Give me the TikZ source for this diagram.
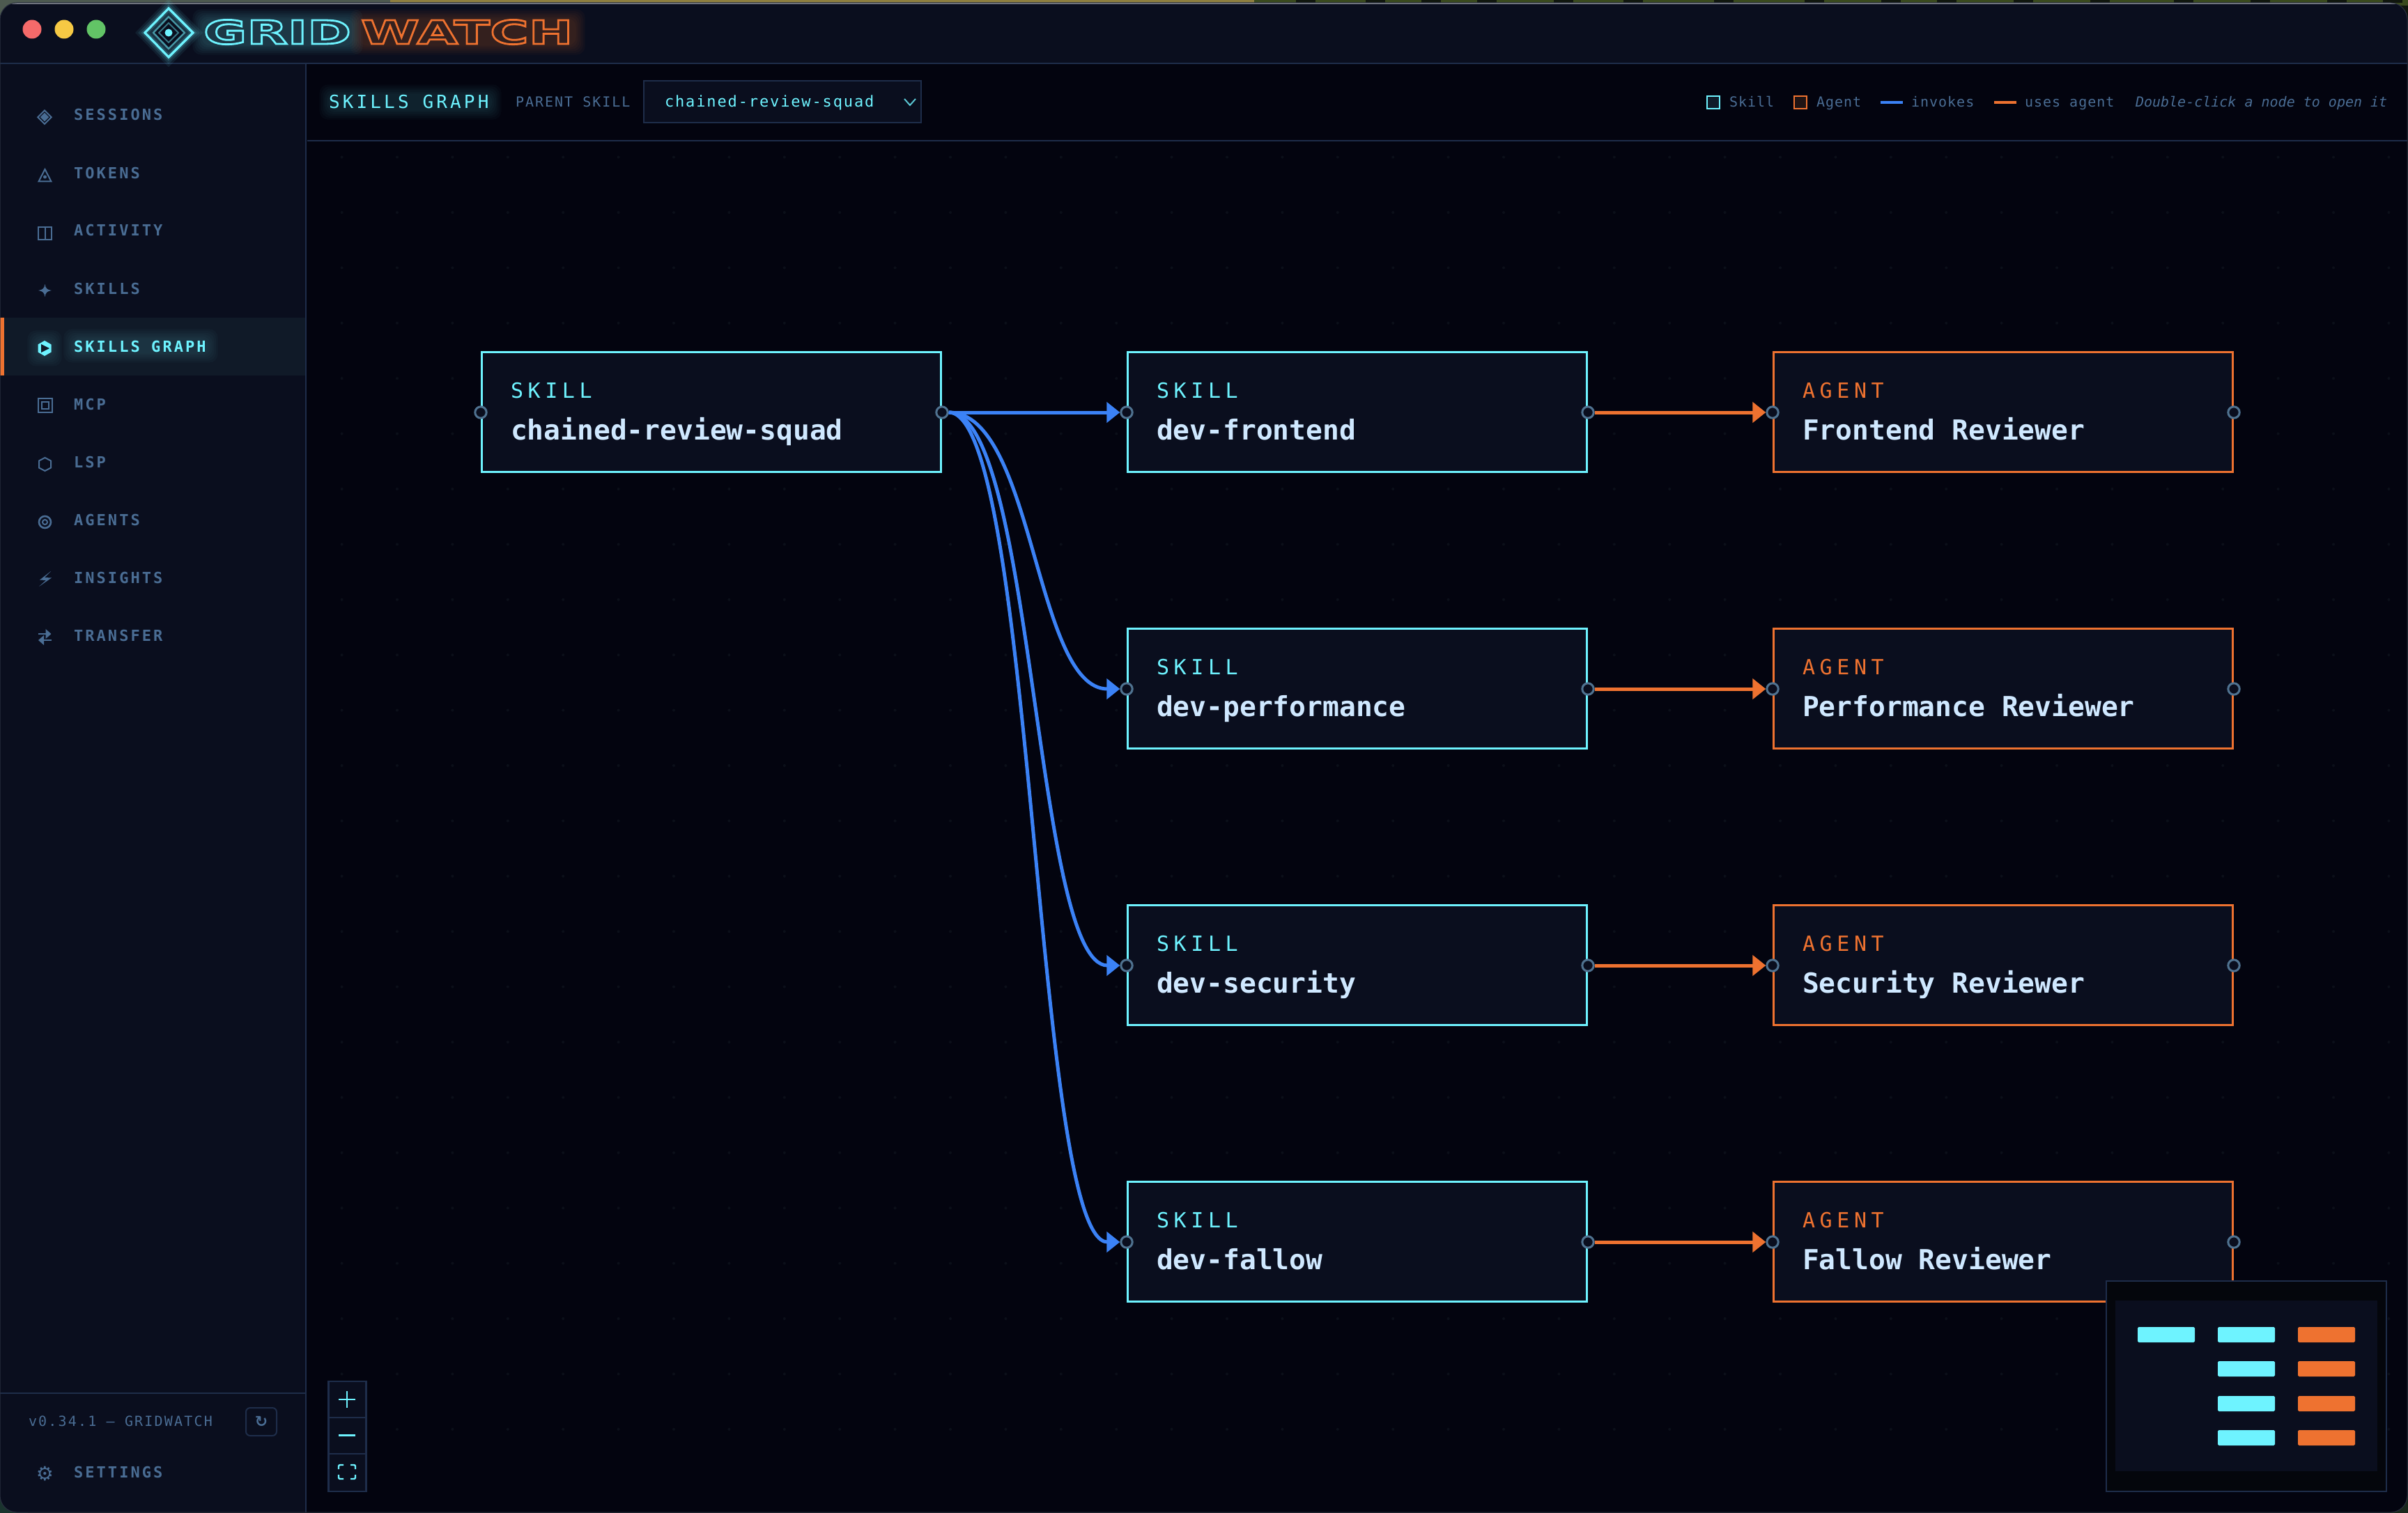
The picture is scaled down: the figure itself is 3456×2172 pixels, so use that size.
\documentclass[tikz,border=0pt]{standalone}
\usepackage{fontspec}
\usetikzlibrary{arrows.meta}
\setmainfont{DejaVu Sans Mono}
\newfontfamily\navfont[LetterSpace=14]{DejaVu Sans Mono}
\newfontfamily\kickerfont[LetterSpace=22]{DejaVu Sans Mono}
\newfontfamily\titlefont[LetterSpace=16]{DejaVu Sans Mono}
\newfontfamily\smallfont[LetterSpace=10]{DejaVu Sans Mono}
\newfontfamily\versionfont[LetterSpace=11]{DejaVu Sans Mono}
\newfontfamily\selectfontfam[LetterSpace=8.5]{DejaVu Sans Mono}
\newfontfamily\legendfont[LetterSpace=5]{DejaVu Sans Mono}
\newfontfamily\symfont{DejaVu Sans}
\newfontfamily\logofont[FakeStretch=1.63]{DejaVu Sans}
\definecolor{cyanc}{HTML}{6EF3FF}
\definecolor{orangec}{HTML}{EE7230}
\definecolor{bluec}{HTML}{3B82F6}
\definecolor{panel}{HTML}{0A0E1E}
\definecolor{canvasbg}{HTML}{03040F}
\definecolor{linec}{HTML}{1E2D4A}
\definecolor{muted}{HTML}{4A6D94}
\definecolor{lighttext}{HTML}{CFE8FF}
\definecolor{portc}{HTML}{4F7290}
\definecolor{griddot}{HTML}{0B0F19}
\definecolor{activebg}{HTML}{101A28}
\definecolor{wallgrey}{HTML}{4D5A50}
\definecolor{walltan}{HTML}{8F7F3F}
\definecolor{wallgreen}{HTML}{3A4A1E}
\definecolor{walldark}{HTML}{10160E}
\definecolor{cornerbl}{HTML}{1A342E}
\definecolor{cornerbr}{HTML}{1A281C}
\definecolor{tlred}{HTML}{F56A6A}
\definecolor{tlyellow}{HTML}{F6C944}
\definecolor{tlgreen}{HTML}{62C466}
\definecolor{titleline}{HTML}{7C808A}
\definecolor{winedge}{HTML}{2A3040}
\definecolor{legskillfill}{HTML}{0F1C2A}
\definecolor{legagentfill}{HTML}{201414}
\definecolor{minibg}{HTML}{04060C}
\newcommand{\fsz}[1]{\fontsize{#1}{#1}\selectfont}
\newcommand{\strokedtext}[1]{\special{pdf:literal direct 1 Tr 0.7 w}#1\special{pdf:literal direct 0 Tr}}
\newcommand{\softglow}[6]{\foreach \k in {1,...,6}{\fill[#5,opacity=#6,rounded corners=3pt] (#1-2.6*\k,#2-2.6*\k) rectangle (#3+2.6*\k,#4+2.6*\k);}}
\tikzset{
  txt/.style={anchor=base west,inner sep=0pt,outer sep=0pt},
  navlabel/.style={txt,text=muted,font=\navfont\bfseries\fsz{5.5}},
  navicon/.style={anchor=center,inner sep=0pt,text=muted,font=\symfont\bfseries\fsz{7}},
  iconline/.style={draw=muted,line width=.5pt},
  kicker/.style={txt,font=\kickerfont\fsz{7.5}},
  nodename/.style={txt,text=lighttext,font=\bfseries\fsz{9.9}},
  legendlabel/.style={txt,text=muted,font=\legendfont\fsz{5}},
  skillbox/.style={rectangle,draw=cyanc,fill=panel,line width=.75pt,minimum width=164.75pt,minimum height=43pt,inner sep=0pt},
  agentbox/.style={skillbox,draw=orangec},
  portdot/.style={circle,draw=portc,fill=panel,line width=.75pt,minimum size=4.1pt,inner sep=0pt,outer sep=.375pt},
  invokes/.style={draw=bluec,line width=1.25pt,-{Triangle[length=4.75pt,width=7.25pt]}},
  usesagent/.style={draw=orangec,line width=1.25pt,-{Triangle[length=4.75pt,width=7.25pt]}},
  panelline/.style={draw=linec,line width=.5pt},
  minibar/.style={rounded corners=.4pt},
}
\begin{document}
\begin{tikzpicture}[x=0.25pt,y=-0.25pt]
\useasboundingbox (0,0) rectangle (3456,2172);
% wallpaper behind the window
\fill[walldark] (0,0) rectangle (3456,2172);
\fill[wallgrey] (0,0) rectangle (560,40);
\fill[cornerbl] (0,2130) rectangle (40,2172);
\fill[cornerbr] (3416,2130) rectangle (3456,2172);
\fill[walltan] (560,0) rectangle (1800,8);
\fill[wallgreen] (1800,0) rectangle (3456,8);
\foreach \sx in {1860,1960,2040,2120,2230,2330,2460,2590,2700,2780,2890,3000,3120,3230,3340,3420}{
  \fill[walldark] (\sx,0) rectangle (\sx+28,4);
}
% window
\begin{scope}
\clip[rounded corners=6pt] (0,4) rectangle (3455,2171);
\fill[canvasbg] (0,0) rectangle (3456,2172);
% title bar
\fill[panel] (0,0) rectangle (3456,90);
\fill[titleline] (0,4) rectangle (3456,6.5);
\draw[panelline] (0,91) -- (3456,91);
% sidebar
\fill[panel] (0,92) rectangle (438,2172);
\fill[activebg] (0,456) rectangle (438,539);
\fill[orangec] (0,456) rectangle (6,539);
\draw[panelline] (439,92) -- (439,2172);
\draw[panelline] (0,2000) -- (438,2000);
% canvas dot grid
\foreach \gi in {-11,...,26}{\foreach \gj in {-5,...,18}{
  \fill[griddot] (1364+79.4*\gi,622.6+79.4*\gj) circle[radius=2];
}}
% toolbar
\fill[canvasbg] (441,92) rectangle (3456,201);
\draw[panelline] (441,202) -- (3456,202);
\end{scope}
\draw[winedge,line width=.25pt,rounded corners=6pt] (0,4) rectangle (3455,2171);
% traffic lights
\fill[tlred] (46,42) circle[radius=13.5];
\fill[tlyellow] (92,42) circle[radius=13.5];
\fill[tlgreen] (138,42) circle[radius=13.5];
% logo glow
\softglow{292}{29}{505}{63}{cyanc}{.035}
\softglow{518}{29}{824}{63}{orangec}{.035}
% logo mark
\foreach \w/\o in {5/.08,3.5/.10,2/.16}{
  \draw[cyanc,opacity=\o,line width=\w pt] (242,12) -- (277,47) -- (242,82) -- (208,47) -- cycle;
}
\draw[cyanc,line width=.8pt] (242,12) -- (277,47) -- (242,82) -- (208,47) -- cycle;
\draw[cyanc!60!panel,line width=.6pt] (242,24) -- (265,47) -- (242,70) -- (220,47) -- cycle;
\draw[cyanc!45!panel,line width=.5pt] (242,33) -- (256,47) -- (242,61) -- (228,47) -- cycle;
\fill[cyanc] (242,47) circle[radius=5.5];
\node[txt,text=cyanc,font=\logofont\bfseries\fsz{11.65}] (logoa) at (292,63) {\strokedtext{GRID}};
\node[txt,text=orangec,font=\logofont\bfseries\fsz{11.65}] (logob) at (518,63) {\strokedtext{WATCH}};
% sidebar icons
\draw[iconline] (64,158.5) -- (73.7,168.2) -- (64,178) -- (54.3,168.2) -- cycle;
\fill[muted] (64,162) -- (70.2,168.2) -- (64,174.4) -- (57.8,168.2) -- cycle;
\draw[iconline] (64.5,243) -- (73.5,260.5) -- (55.5,260.5) -- cycle;
\fill[muted] (64.5,254) circle[radius=2.5];
\draw[iconline] (55,325.5) rectangle (74,343.5) (64.5,325.5) -- (64.5,343.5);
\fill[muted] (64.5,408) .. controls (65.5,414) and (67.5,416) .. (74,417) .. controls (67.5,418) and (65.5,420) .. (64.5,426) .. controls (63.5,420) and (61.5,418) .. (55,417) .. controls (61.5,416) and (63.5,414) .. (64.5,408) -- cycle;
\draw[iconline] (54.5,572) rectangle (74.5,592) (59.5,577) rectangle (69.5,587);
\draw[iconline] (64.5,657) -- (73,661.5) -- (73,671.5) -- (64.5,676) -- (56,671.5) -- (56,661.5) -- cycle;
\draw[muted,line width=.65pt] (64.5,749.5) circle[radius=8.5];
\draw[muted,line width=.5pt] (64.5,749.5) circle[radius=3.5];
\fill[muted] (73,820) -- (57,832.5) -- (66,833) -- (56,842) -- (74,829.5) -- (64,829) -- cycle;
\draw[muted,line width=.65pt,-{Triangle[length=2pt,width=3.4pt]}] (55,910) -- (73.5,910);
\draw[muted,line width=.65pt,-{Triangle[length=2pt,width=3.4pt]}] (73.5,919) -- (55,919);
% sidebar labels
\node[navlabel] (nava) at (106,173) {SESSIONS};
\node[navlabel] (navb) at (106,256) {TOKENS};
\node[navlabel] (navc) at (106,339) {ACTIVITY};
\node[navlabel] (navd) at (106,422) {SKILLS};
\softglow{107}{488}{297}{505}{cyanc}{.022}
\softglow{55}{490}{73}{510}{cyanc}{.022}
\node[navlabel,text=cyanc] (nave) at (106,505) {SKILLS GRAPH};
\fill[cyanc] (64,489) -- (73.5,494.5) -- (73.5,505.5) -- (64,511) -- (54.5,505.5) -- (54.5,494.5) -- cycle;
\fill[activebg] (59,494) -- (71,500) -- (59,506) -- cycle;
\node[navlabel] (navf) at (106,588) {MCP};
\node[navlabel] (navg) at (106,671) {LSP};
\node[navlabel] (navh) at (106,754) {AGENTS};
\node[navlabel] (navi) at (106,837) {INSIGHTS};
\node[navlabel] (navj) at (106,920) {TRANSFER};
% sidebar footer
\node[txt,text=muted,font=\versionfont\fsz{5}] (version) at (41,2047) {v0.34.1 — GRIDWATCH};
\node[rectangle,draw=linec,line width=.5pt,rounded corners=1.5pt,minimum width=11pt,minimum height=10pt,inner sep=0pt,text=muted,font=\symfont\bfseries\fsz{5.5}] (refresh) at (375,2041) {↻};
\node[navicon] (gear) at (64.5,2116) {⚙};
\node[navlabel] (settings) at (106,2121) {SETTINGS};
% toolbar
\softglow{474}{137}{704}{156}{cyanc}{.022}
\node[txt,text=cyanc,font=\titlefont\fsz{6.5}] (title) at (472,156) {SKILLS GRAPH};
\node[txt,text=muted,font=\smallfont\fsz{5}] (parent) at (740,154) {PARENT SKILL};
\node[rectangle,draw=linec,fill=panel,line width=.5pt,minimum width=99.5pt,minimum height=15pt,inner sep=0pt] (select) at (1123,146.5) {};
\node[txt,text=cyanc,font=\selectfontfam\fsz{5.5}] (selecttext) at (954,154) {chained-review-squad};
\draw[cyanc!80!panel,line width=.5pt] (1298,142) -- (1306,151) -- (1314,142);
% legend
\fill[legskillfill,draw=cyanc,line width=.5pt] (2450,138) rectangle (2468,156);
\node[legendlabel] (legskill) at (2482,154) {Skill};
\fill[legagentfill,draw=orangec,line width=.5pt] (2575,138) rectangle (2593,156);
\node[legendlabel] (legagent) at (2607,154) {Agent};
\fill[bluec] (2699,145) rectangle (2731,149);
\node[legendlabel] (leginv) at (2743,154) {invokes};
\fill[orangec] (2862,145) rectangle (2894,149);
\node[legendlabel] (leguses) at (2906,154) {uses agent};
\node[txt,text=muted,font=\itshape\fsz{5}] (hint) at (3065,154) {Double-click a node to open it};
% graph nodes
\node[skillbox] (root) at (1021,591.5) {};
\node[kicker,text=cyanc] (rootk) at (733,571) {SKILL};
\node[nodename] (rootn) at (733,631) {chained-review-squad};
\node[portdot] (rootL) at (690,592) {};
\node[portdot] (rootR) at (1352,592) {};
\foreach \nm/\yy/\sk/\ag in {fe/592/dev-frontend/Frontend Reviewer,pf/989/dev-performance/Performance Reviewer,sc/1386/dev-security/Security Reviewer,fa/1783/dev-fallow/Fallow Reviewer}{
  \node[skillbox] (s\nm) at (1948,\yy-.5) {};
  \node[kicker,text=cyanc] (s\nm k) at (1660,\yy-21) {SKILL};
  \node[nodename] (s\nm n) at (1660,\yy+39) {\sk};
  \node[portdot] (s\nm L) at (1617,\yy) {};
  \node[portdot] (s\nm R) at (2279,\yy) {};
  \node[agentbox] (a\nm) at (2875,\yy-.5) {};
  \node[kicker,text=orangec] (a\nm k) at (2587,\yy-21) {AGENT};
  \node[nodename] (a\nm n) at (2587,\yy+39) {\ag};
  \node[portdot] (a\nm L) at (2544,\yy) {};
  \node[portdot] (a\nm R) at (3206,\yy) {};
  \draw[usesagent] (s\nm R) -- (a\nm L);
}
% invokes edges
\draw[invokes] (rootR) -- (sfeL);
\draw[invokes] (rootR) .. controls +(132,0) and +(-132,0) .. (spfL);
\draw[invokes] (rootR) .. controls +(132,0) and +(-132,0) .. (sscL);
\draw[invokes] (rootR) .. controls +(132,0) and +(-132,0) .. (sfaL);
% zoom controls
\node[rectangle,draw=linec,fill=panel,line width=.6pt,minimum width=13.5pt,minimum height=39.5pt,inner sep=0pt] (zoombox) at (498.5,2062) {};
\draw[panelline] (472,2035) -- (525,2035);
\draw[panelline] (472,2087) -- (525,2087);
\draw[cyanc,line width=.6pt] (486,2009) -- (510,2009) (498,1997) -- (498,2021);
\draw[cyanc,line width=.75pt] (486,2060) -- (510,2060);
\draw[cyanc,line width=.6pt,rounded corners=.5pt]
  (486,2109) -- (486,2103) -- (493,2103) (503,2103) -- (510,2103) -- (510,2109)
  (510,2117) -- (510,2123) -- (503,2123) (493,2123) -- (486,2123) -- (486,2117);
% minimap
\node[rectangle,draw=linec,fill=minibg,line width=.5pt,minimum width=100.5pt,minimum height=75.5pt,inner sep=0pt] (minimap) at (3224,1990) {};
\fill[panel] (3036,1867) rectangle (3412,2112);
\fill[cyanc,minibar] (3068,1905) rectangle (3150,1927);
\foreach \yy in {1905,1954,2004,2053}{
  \fill[cyanc,minibar] (3183,\yy) rectangle (3265,\yy+22);
  \fill[orangec,minibar] (3298,\yy) rectangle (3380,\yy+22);
}
\end{tikzpicture}
\end{document}
